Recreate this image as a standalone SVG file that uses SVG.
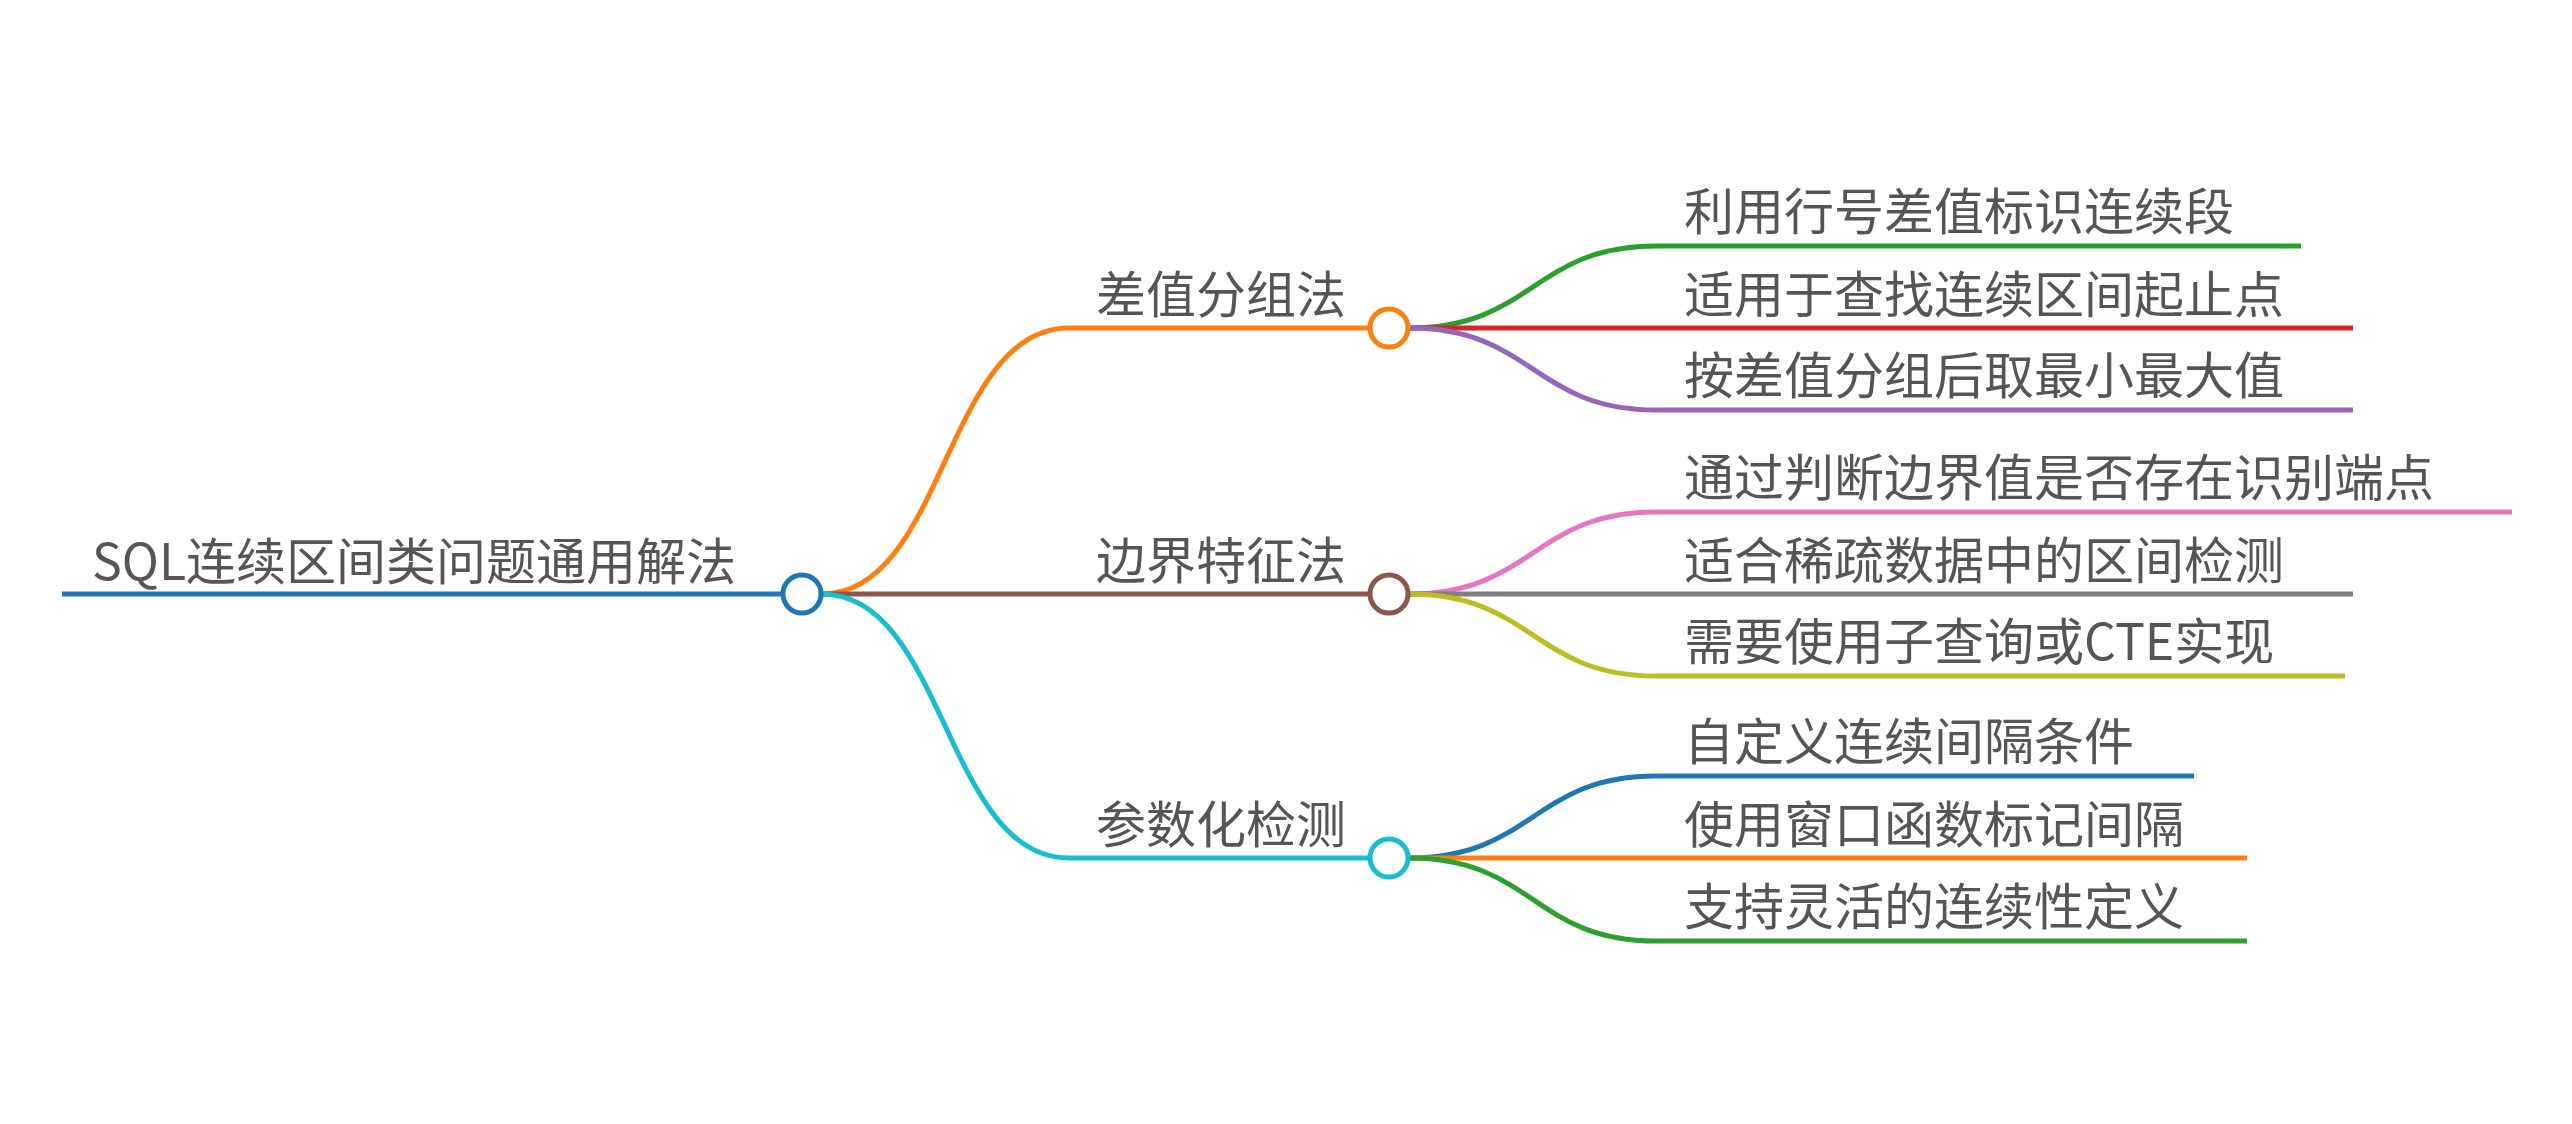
<svg xmlns="http://www.w3.org/2000/svg" width="2572" height="1124" viewBox="0 0 2572 1124">
<style>
.t{font-family:"Noto Sans CJK SC","Noto Sans",sans-serif;font-size:50px;fill:#555;}
.e{fill:none;stroke-width:5;}
.n{fill:#fff;stroke-width:5;}
</style>
<rect width="2572" height="1124" fill="#fff"/>
<g id="connectors">
<path class="e" stroke="#1f77b4" stroke-width="6" d="M62,594 H782"/>
<path class="e" stroke="#ff7f0e" d="M822,594 C945,594 945,328 1069,328 H1369"/>
<path class="e" stroke="#8c564b" d="M822,594 H1369"/>
<path class="e" stroke="#17becf" d="M822,594 C945,594 945,858 1069,858 H1369"/>
<path class="e" stroke="#2ca02c" d="M1409,328 C1533,328 1533,246 1656,246 H2301"/>
<path class="e" stroke="#d62728" d="M1409,328 H2353"/>
<path class="e" stroke="#9467bd" d="M1409,328 C1533,328 1533,410 1656,410 H2353"/>
<path class="e" stroke="#e377c2" d="M1409,594 C1533,594 1533,512 1656,512 H2512"/>
<path class="e" stroke="#7f7f7f" d="M1409,594 H2353"/>
<path class="e" stroke="#bcbd22" d="M1409,594 C1533,594 1533,676 1656,676 H2345"/>
<path class="e" stroke="#1f77b4" d="M1409,858 C1533,858 1533,776 1656,776 H2194"/>
<path class="e" stroke="#ff7f0e" d="M1409,858 H2247"/>
<path class="e" stroke="#2ca02c" d="M1409,858 C1533,858 1533,941 1656,941 H2247"/>
</g>
<g id="root"><circle class="n" cx="802" cy="594" r="19" stroke="#1f77b4"/><text class="t" x="92" y="580">SQL连续区间类问题通用解法</text></g>
<g id="b1"><circle class="n" cx="1389" cy="328" r="19" stroke="#ff7f0e"/><text class="t" x="1096" y="313">差值分组法</text></g>
<g id="b2"><circle class="n" cx="1389" cy="594" r="19" stroke="#8c564b"/><text class="t" x="1096" y="579">边界特征法</text></g>
<g id="b3"><circle class="n" cx="1389" cy="858" r="19" stroke="#17becf"/><text class="t" x="1096" y="843">参数化检测</text></g>
<g id="l1"><text class="t" x="1684" y="230">利用行号差值标识连续段</text></g>
<g id="l2"><text class="t" x="1684" y="313">适用于查找连续区间起止点</text></g>
<g id="l3"><text class="t" x="1684" y="394">按差值分组后取最小最大值</text></g>
<g id="l4"><text class="t" x="1684" y="496">通过判断边界值是否存在识别端点</text></g>
<g id="l5"><text class="t" x="1684" y="579">适合稀疏数据中的区间检测</text></g>
<g id="l6"><text class="t" x="1684" y="660">需要使用子查询或CTE实现</text></g>
<g id="l7"><text class="t" x="1684" y="760">自定义连续间隔条件</text></g>
<g id="l8"><text class="t" x="1684" y="843">使用窗口函数标记间隔</text></g>
<g id="l9"><text class="t" x="1684" y="925">支持灵活的连续性定义</text></g>
</svg>
